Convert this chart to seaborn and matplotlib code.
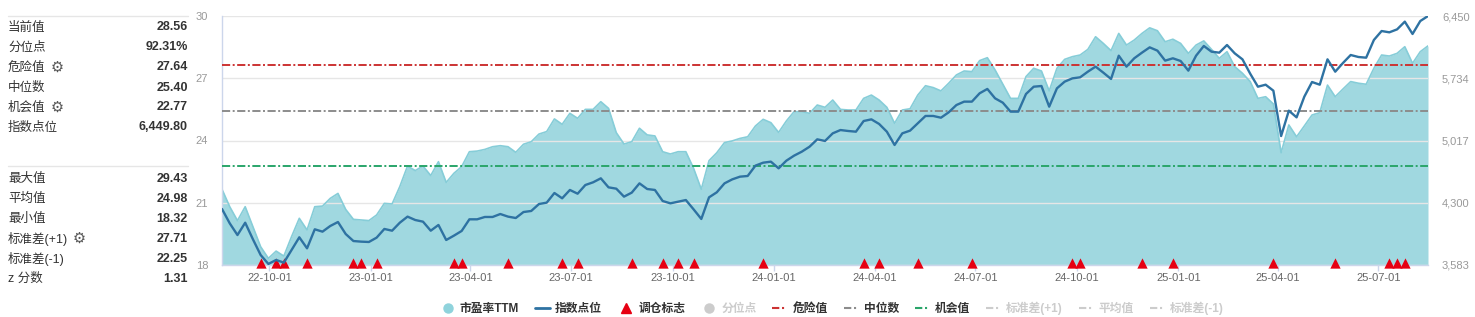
import numpy as np
import pandas as pd
import matplotlib
matplotlib.use("Agg")
import matplotlib.pyplot as plt
import matplotlib.transforms as mtransforms
from matplotlib.lines import Line2D
import seaborn as sns

# ---------------- data ----------------
dates = pd.date_range("2022-08-19", periods=157, freq="7D")

pe_ttm = [
    21.65, 20.81, 20.14, 20.81, 19.85, 18.88, 18.32, 18.67, 18.43, 19.37,
    20.25, 19.69, 20.81, 20.84, 21.21, 21.45, 20.68, 20.20, 20.17, 20.14,
    20.41, 20.97, 20.94, 21.78, 22.77, 22.55, 22.77, 22.31, 22.98, 21.98,
    22.42, 22.74, 23.46, 23.49, 23.57, 23.70, 23.75, 23.70, 23.43, 23.82,
    23.94, 24.31, 24.43, 25.04, 24.78, 25.31, 25.07, 25.50, 25.50, 25.87,
    25.55, 24.38, 23.83, 23.94, 24.59, 24.27, 24.22, 23.46, 23.35, 23.46,
    23.46, 22.66, 21.65, 23.03, 23.41, 23.90, 23.98, 24.10, 24.18, 24.70,
    25.02, 24.86, 24.39, 24.94, 25.39, 25.39, 25.31, 25.71, 25.60, 25.95,
    25.50, 25.47, 25.47, 26.03, 26.19, 25.95, 25.60, 24.83, 25.47, 25.53,
    26.19, 26.64, 26.55, 26.39, 26.76, 27.16, 27.35, 27.32, 27.85, 27.99,
    27.40, 26.72, 26.03, 26.03, 27.08, 27.48, 27.35, 26.39, 27.48, 27.91,
    28.04, 28.12, 28.39, 29.00, 28.68, 28.33, 29.16, 28.60, 28.84, 29.16,
    29.43, 29.29, 28.76, 28.88, 28.68, 28.20, 28.60, 28.80, 28.39, 27.96,
    28.28, 27.56, 27.24, 26.84, 26.03, 26.11, 25.76, 23.41, 24.75, 24.18,
    24.70, 25.23, 25.34, 26.67, 26.11, 26.48, 26.84, 26.76, 26.71, 27.48,
    28.12, 28.07, 28.20, 28.52, 27.72, 28.28, 28.56,
]

index_points = [
    4228, 4063, 3928, 4070, 3879, 3698, 3595, 3641, 3610, 3756,
    3902, 3775, 3994, 3967, 4032, 4078, 3940, 3859, 3852, 3848,
    3898, 3998, 3978, 4070, 4140, 4101, 4082, 3978, 4044, 3871,
    3921, 3975, 4109, 4109, 4136, 4136, 4170, 4140, 4124, 4193,
    4205, 4285, 4301, 4412, 4351, 4447, 4404, 4504, 4535, 4581,
    4477, 4462, 4370, 4416, 4523, 4458, 4447, 4320, 4293, 4312,
    4331, 4224, 4113, 4362, 4420, 4523, 4569, 4600, 4608, 4727,
    4761, 4773, 4696, 4784, 4842, 4888, 4945, 5030, 5011, 5099,
    5137, 5126, 5118, 5241, 5260, 5207, 5118, 4965, 5099, 5130,
    5214, 5299, 5299, 5279, 5341, 5425, 5464, 5464, 5560, 5610,
    5502, 5452, 5349, 5349, 5552, 5636, 5644, 5406, 5617, 5694,
    5732, 5744, 5809, 5867, 5798, 5725, 5993, 5867, 5963, 6028,
    6089, 6051, 5936, 5963, 5932, 5821, 5993, 6105, 6039, 6028,
    6116, 6020, 5951, 5786, 5636, 5659, 5590, 5068, 5360, 5283,
    5521, 5690, 5659, 5951, 5809, 5909, 6001, 5978, 5970, 6174,
    6277, 6262, 6296, 6385, 6243, 6392, 6449.8,
]

# weeks (positions in the date list) carrying a rebalance marker
rebalance_weeks = [5, 7, 8, 11, 17, 18, 20, 30, 31, 37, 44, 46, 53, 57, 59, 61,
                   70, 83, 85, 90, 97, 110, 111, 119, 123, 136, 144, 151, 152, 153]

danger_value = 27.64
median_value = 25.40
opportunity_value = 22.77

pe_ticks = [18, 21, 24, 27, 30]
index_ticks = [3583, 4300, 5017, 5734, 6450]
x_tick_dates = ["2022-10-01", "2023-01-01", "2023-04-01", "2023-07-01",
                "2023-10-01", "2024-01-01", "2024-04-01", "2024-07-01",
                "2024-10-01", "2025-01-01", "2025-04-01", "2025-07-01"]

stats_top_labels = ["当前值", "分位点", "危险值", "中位数", "机会值", "指数点位"]
stats_top_values = ["28.56", "92.31%", "27.64", "25.40", "22.77", "6,449.80"]
stats_top_gear = [False, False, True, False, True, False]
stats_bottom_labels = ["最大值", "平均值", "最小值", "标准差(+1)", "标准差(-1)", "z 分数"]
stats_bottom_values = ["29.43", "24.98", "18.32", "27.71", "22.25", "1.31"]
stats_bottom_gear = [False, False, False, True, False, False]

legend_labels = ["市盈率TTM", "指数点位", "调仓标志", "分位点", "危险值", "中位数",
                 "机会值", "标准差(+1)", "平均值", "标准差(-1)"]

# ---------------- style ----------------
sns.set_theme(style="white")
plt.rcParams["font.family"] = ["Liberation Sans", "Noto Sans CJK SC", "DejaVu Sans"]

W, H = 1475, 317
fig = plt.figure(figsize=(W / 100, H / 100), dpi=100)

L, R, T, B = 222, 1428, 16, 265
ax = fig.add_axes([L / W, 1 - B / H, (R - L) / W, (B - T) / H])

df = pd.DataFrame({"date": dates, "pe": pe_ttm, "idx": index_points})

AREA = "#a0d8e0"
AREA_EDGE = "#86cdd8"
IDX_C = "#2e72a2"
RED = "#cc3333"
GRAY = "#8c8c8c"
GREEN = "#2aa56a"
DASH = (4.2, 1.3, 1.0, 1.3)

ax.fill_between(df["date"], pe_ticks[0], df["pe"], color=AREA, lw=0, zorder=1)
sns.lineplot(data=df, x="date", y="pe", ax=ax, color=AREA_EDGE, lw=1.2, zorder=2, legend=False)

ax.axhline(danger_value, color=RED, lw=1.4, dashes=DASH, zorder=3)
ax.axhline(median_value, color=GRAY, lw=1.4, dashes=DASH, zorder=3)
ax.axhline(opportunity_value, color=GREEN, lw=1.4, dashes=DASH, zorder=3)

reb = pd.DataFrame({"date": dates[rebalance_weeks], "y": [pe_ticks[0]] * len(rebalance_weeks)})
sns.scatterplot(data=reb, x="date", y="y", ax=ax, marker="^", color="#e60012",
                s=55, linewidth=0, zorder=6, clip_on=False, legend=False)
coll = ax.collections[-1]
coll.set_offset_transform(mtransforms.offset_copy(ax.transData, fig=fig, x=0, y=2.5, units="dots"))

ax.set_ylim(pe_ticks[0], pe_ticks[-1])
ax.set_yticks(pe_ticks)
ax.set_yticklabels([str(t) for t in pe_ticks])
ax.set_xlim(dates[0], dates[-1])
xt = pd.to_datetime(x_tick_dates)
ax.set_xticks(xt)
ax.set_xticklabels([d.strftime("%y-%m-%d") for d in xt])
ax.grid(axis="y", color="#e6e6e6", lw=1)
ax.grid(axis="x", visible=False)
ax.set_axisbelow("line")
ax.set_xlabel("")
ax.set_ylabel("")
ax.tick_params(axis="x", length=4, width=1, color="#ccd6eb", labelsize=8,
               labelcolor="#666666", pad=2, bottom=True)
ax.tick_params(axis="y", length=0, labelsize=8, labelcolor="#999999", pad=10)
for s in ["top", "right"]:
    ax.spines[s].set_visible(False)
for s in ["left", "bottom"]:
    ax.spines[s].set_color("#ccd6eb")
    ax.spines[s].set_linewidth(1)

ax2 = ax.twinx()
sns.lineplot(data=df, x="date", y="idx", ax=ax2, color=IDX_C, lw=1.7, zorder=4, legend=False)
ax2.set_ylim(index_ticks[0], index_ticks[-1])
ax2.set_yticks(index_ticks)
ax2.set_yticklabels([f"{t:,}" for t in index_ticks])
ax2.set_xlim(dates[0], dates[-1])
ax2.grid(False)
ax2.set_xlabel("")
ax2.set_ylabel("")
ax2.tick_params(axis="y", length=0, labelsize=8, labelcolor="#999999", pad=10)
for s in ax2.spines.values():
    s.set_visible(False)

# ---------------- left stats panel ----------------
renderer = fig.canvas.get_renderer()

def sep(y):
    fig.add_artist(Line2D([8 / W, 188 / W], [1 - y / H, 1 - y / H],
                          transform=fig.transFigure, color="#e6e6e6", lw=1))

def rows(labels, values, gears, y0):
    for k, (lab, val, g) in enumerate(zip(labels, values, gears)):
        y = y0 + k * 20
        t = fig.text(8 / W, 1 - y / H, lab, ha="left", va="center", fontsize=9, color="#333333")
        fig.text(188 / W, 1 - y / H, val, ha="right", va="center", fontsize=9,
                 color="#333333", fontweight="bold")
        if g:
            bb = t.get_window_extent(renderer)
            fig.text((bb.x1 + 5) / W, 1 - y / H, "⚙", ha="left", va="center",
                     fontsize=10.5, color="#555555", family=["DejaVu Sans"])

sep(16)
rows(stats_top_labels, stats_top_values, stats_top_gear, 27.5)
sep(166)
rows(stats_bottom_labels, stats_bottom_values, stats_bottom_gear, 178.5)

# ---------------- legend ----------------
LIGHT = "#cccccc"
LDASH = (3.5, 1.3, 1.0, 3)
handles = [
    Line2D([], [], ls="none", marker="o", ms=6.5, color="#8fd3dc"),
    Line2D([], [], color=IDX_C, lw=2),
    Line2D([], [], ls="none", marker="^", ms=7, color="#e60012"),
    Line2D([], [], ls="none", marker="o", ms=6.5, color=LIGHT),
    Line2D([], [], color=RED, lw=1.5, dashes=LDASH),
    Line2D([], [], color=GRAY, lw=1.5, dashes=LDASH),
    Line2D([], [], color=GREEN, lw=1.5, dashes=LDASH),
    Line2D([], [], color=LIGHT, lw=1.5, dashes=LDASH),
    Line2D([], [], color=LIGHT, lw=1.5, dashes=LDASH),
    Line2D([], [], color=LIGHT, lw=1.5, dashes=LDASH),
]
leg = fig.legend(handles, legend_labels, loc="center", bbox_to_anchor=(832 / W, 1 - 308 / H),
                 ncol=10, frameon=False, prop={"size": 8.5, "weight": "bold"},
                 handlelength=1.3, handletextpad=0.4, columnspacing=1.35, borderpad=0)
text_colors = ["#333333", "#333333", "#333333", LIGHT, "#333333", "#333333", "#333333",
               LIGHT, LIGHT, LIGHT]
for txt, c in zip(leg.get_texts(), text_colors):
    txt.set_color(c)

fig.savefig("out.png", dpi=100)
